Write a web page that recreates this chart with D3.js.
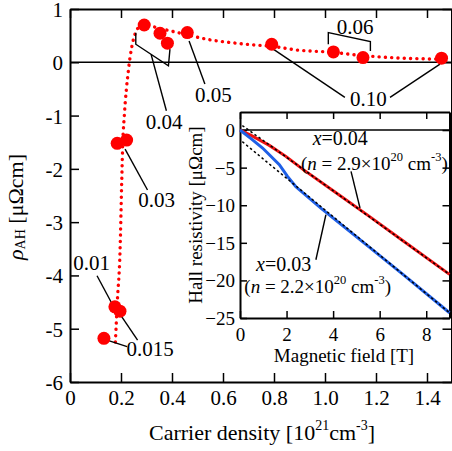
<!DOCTYPE html>
<html><head><meta charset="utf-8">
<script src="https://cdn.jsdelivr.net/npm/d3@7"></script>
<style>
html,body{margin:0;padding:0;background:#fff;}
svg{display:block;font-family:"Liberation Serif","Times New Roman",serif;}
</style></head>
<body>
<svg id="c" width="452" height="451"></svg>
<script>
// ---- main panel data ----
const density = [0.133,0.176,0.196,0.185,0.222,0.291,0.353,0.382,0.460,0.791,1.033,1.149,1.457];
const rhoAH   = [-5.18,-4.59,-4.67,-1.52,-1.46,0.70,0.545,0.358,0.557,0.339,0.195,0.089,0.077];
const guideX = [0.178,0.186,0.196,0.203,0.207,0.213,0.229,0.242,0.255,0.27,0.29,0.34,0.42,0.5,0.55,0.63,0.71,0.79,0.89,1.02,1.15,1.28,1.41,1.47];
const guideY = [-5.25,-4.45,-3.58,-2.21,-1.5,-1.0,-0.15,0.28,0.53,0.66,0.71,0.65,0.56,0.47,0.42,0.37,0.33,0.30,0.23,0.19,0.125,0.082,0.063,0.06];
const xTicks = [0,0.2,0.4,0.6,0.8,1.0,1.2,1.4];
const xTickLabels = ["0","0.2","0.4","0.6","0.8","1.0","1.2","1.4"];
const yTicks = [1,0,-1,-2,-3,-4,-5,-6];
const yTickLabels = ["1","0","-1","-2","-3","-4","-5","-6"];
// composition labels: text, anchor (data units), leader polylines (data units)
const compLabels = ["0.01","0.015","0.03","0.04","0.05","0.06","0.10"];
const compLabelX = [0.013,0.222,0.268,0.297,0.49,1.046,1.098];
const compLabelY = [-3.90,-5.51,-2.72,-1.25,-0.74,0.53,-0.815];
const leaders = [
  [[0.106,-4.006],[0.167,-4.55]],
  [[0.133,-5.195],[0.224,-5.335]],
  [[0.196,-4.727],[0.265,-5.214]],
  [[0.216,-1.63],[0.304,-2.397]],
  [[0.258,0.556],[0.258,0.339],[0.386,-0.067],[0.392,0.246]],
  [[0.318,0.148],[0.378,-0.909]],
  [[0.467,0.401],[0.529,-0.409]],
  [[1.013,0.339],[1.013,0.556],[1.178,0.388],[1.178,0.214]],
  [[0.797,0.246],[1.078,-0.660]],
  [[1.255,-0.66],[1.451,-0.035]]
];
// ---- inset data ----
const fieldRed = [0,0.5,1.26,1.97,2.69,4.11,5.54,6.97,9.0];
const hallRed  = [0,-0.75,-2.04,-3.5,-5.2,-8.3,-11.45,-14.65,-19.2];
const fieldBlue = [0,0.5,0.97,1.69,2.04,2.4,3.5,5.5,7.0,9.0];
const hallBlue  = [0,-1.2,-2.39,-4.6,-6.16,-7.55,-10.45,-15.45,-19.2,-24.3];
const fitRed = [[0.1,0.6],[9.0,-19.2]];
const fitBlue = [[0.1,-1.55],[9.0,-24.3]];
const insetXTicks = [0,2,4,6,8];
const insetYTicks = [0,-5,-10,-15,-20,-25];

const svg = d3.select("#c");
const ser = '"Liberation Serif","Times New Roman",serif';

// ---- main scales ----
const x = d3.scaleLinear().domain([0,1.5]).range([70,452.5]);
const y = d3.scaleLinear().domain([-6,1]).range([382,9]);

// zero line
svg.append("line").attr("x1",x(0)).attr("x2",x(1.5)).attr("y1",y(0)).attr("y2",y(0))
  .attr("stroke","#000").attr("stroke-width",1.5);

// axes with inward ticks
const tickLen = 9;
const gB = svg.append("g").attr("transform",`translate(0,${y(-6)})`)
  .call(d3.axisBottom(x).tickValues(xTicks).tickSizeInner(-tickLen).tickSizeOuter(0).tickFormat((d,i)=>xTickLabels[i]));
const gT = svg.append("g").attr("transform",`translate(0,${y(1)})`)
  .call(d3.axisTop(x).tickValues(xTicks).tickSizeInner(-tickLen).tickSizeOuter(0).tickFormat(""));
const gL = svg.append("g").attr("transform",`translate(${x(0)},0)`)
  .call(d3.axisLeft(y).tickValues(yTicks).tickSizeInner(-tickLen).tickSizeOuter(0).tickFormat((d,i)=>yTickLabels[i]));
const gR = svg.append("g").attr("transform",`translate(${x(1.5)-1},0)`)
  .call(d3.axisRight(y).tickValues(yTicks).tickSizeInner(-tickLen).tickSizeOuter(0).tickFormat(""));
[gB,gT,gL,gR].forEach(g=>{
  g.select(".domain").attr("stroke","#000").attr("stroke-width",2);
  g.selectAll(".tick line").attr("stroke","#000").attr("stroke-width",1.5);
  g.selectAll("text").style("font-family",ser).attr("font-size",21).attr("fill","#000");
});
gB.selectAll(".tick text").attr("y",8).attr("dy","0.71em");
gL.selectAll(".tick text").attr("x",-7).attr("dy","0.36em");

// axis titles
const xt = svg.append("text").attr("x",262).attr("y",440).attr("text-anchor","middle")
  .style("font-family",ser).attr("font-size",22);
xt.append("tspan").text("Carrier density [10");
xt.append("tspan").attr("font-size",14).attr("dy",-10).text("21");
xt.append("tspan").attr("dy",10).text("cm");
xt.append("tspan").attr("font-size",14).attr("dy",-10).text("-3");
xt.append("tspan").attr("dy",10).text("]");

const yt = svg.append("text").attr("transform","translate(23,207) rotate(-90)")
  .attr("text-anchor","middle").style("font-family",ser).attr("font-size",22);
yt.append("tspan").attr("font-style","italic").text("ρ");
yt.append("tspan").attr("font-size",14).attr("dy",2).text("AH");
yt.append("tspan").attr("dy",-2).text(" [μΩcm]");

// dotted guide curve
const gLine = d3.line().x(d=>x(d[0])).y(d=>y(d[1])).curve(d3.curveMonotoneX);
svg.append("path").attr("d",gLine(d3.zip(guideX,guideY)))
  .attr("fill","none").attr("stroke","#ff0000").attr("stroke-width",3.4)
  .attr("stroke-linecap","round").attr("stroke-dasharray","0.1 6.2");

// leaders
const lLine = d3.line().x(d=>x(d[0])).y(d=>y(d[1]));
svg.append("g").selectAll("path").data(leaders).join("path")
  .attr("d",lLine).attr("fill","none").attr("stroke","#000").attr("stroke-width",1.4);

// points
svg.append("g").selectAll("circle").data(d3.zip(density,rhoAH)).join("circle")
  .attr("cx",d=>x(d[0])).attr("cy",d=>y(d[1])).attr("r",6.5).attr("fill","#ff0000");

// composition labels
svg.append("g").selectAll("text").data(compLabels).join("text")
  .attr("x",(d,i)=>x(compLabelX[i])).attr("y",(d,i)=>y(compLabelY[i]))
  .style("font-family",ser).attr("font-size",21).text(d=>d);

// ---- inset ----
const ix = d3.scaleLinear().domain([0,9]).range([240,449.5]);
const iy = d3.scaleLinear().domain([-25,2.4]).range([318,112]);
svg.append("rect").attr("x",ix(0)).attr("y",iy(2.4)).attr("width",ix(9)-ix(0)).attr("height",iy(-25)-iy(2.4))
  .attr("fill","#fff");
svg.append("line").attr("x1",ix(0)).attr("x2",ix(9)).attr("y1",iy(0)).attr("y2",iy(0))
  .attr("stroke","#000").attr("stroke-width",1.5);
const iLen = 7;
const iB = svg.append("g").attr("transform",`translate(0,${iy(-25)})`)
  .call(d3.axisBottom(ix).tickValues(insetXTicks).tickSizeInner(-iLen).tickSizeOuter(0));
const iT = svg.append("g").attr("transform",`translate(0,${iy(2.4)})`)
  .call(d3.axisTop(ix).tickValues(insetXTicks).tickSizeInner(-iLen).tickSizeOuter(0).tickFormat(""));
const iL = svg.append("g").attr("transform",`translate(${ix(0)},0)`)
  .call(d3.axisLeft(iy).tickValues(insetYTicks).tickSizeInner(-iLen).tickSizeOuter(0));
const iR = svg.append("g").attr("transform",`translate(${ix(9)},0)`)
  .call(d3.axisRight(iy).tickValues(insetYTicks).tickSizeInner(-iLen).tickSizeOuter(0).tickFormat(""));
[iB,iT,iL,iR].forEach(g=>{
  g.select(".domain").attr("stroke","#000").attr("stroke-width",2);
  g.selectAll(".tick line").attr("stroke","#000").attr("stroke-width",1.5);
  g.selectAll("text").style("font-family",ser).attr("font-size",19).attr("fill","#000");
});
iB.selectAll(".tick text").attr("y",10).attr("dy","0.71em");
iL.selectAll(".tick text").attr("x",-5).attr("dy","0.34em");

svg.append("text").attr("x",344).attr("y",362).attr("text-anchor","middle")
  .style("font-family",ser).attr("font-size",19).text("Magnetic field [T]");
svg.append("text").attr("transform","translate(202,215) rotate(-90)").attr("text-anchor","middle")
  .style("font-family",ser).attr("font-size",19).text("Hall resistivity [μΩcm]");

const iLine = d3.line().x(d=>ix(d[0])).y(d=>iy(d[1]));
svg.append("path").attr("d",iLine(d3.zip(fieldRed,hallRed))).attr("fill","none")
  .attr("stroke","#ee1111").attr("stroke-width",3);
svg.append("path").attr("d",iLine(d3.zip(fieldBlue,hallBlue))).attr("fill","none")
  .attr("stroke","#1f5fe6").attr("stroke-width",3);
[fitRed,fitBlue].forEach(f=>{
  svg.append("path").attr("d",iLine(f)).attr("fill","none").attr("stroke","#000")
    .attr("stroke-width",1.5).attr("stroke-dasharray","2.5 2.5");
});
// inset pointers
svg.append("path").attr("d",iLine([[4.77,-5.49],[5.155,-10.37]])).attr("stroke","#000").attr("stroke-width",1.4).attr("fill","none");
svg.append("path").attr("d",iLine([[3.69,-11.27],[3.26,-17.25]])).attr("stroke","#000").attr("stroke-width",1.4).attr("fill","none");

function sampleLabel(bx,by,comp){
  const t = svg.append("text").attr("x",ix(bx)).attr("y",iy(by)).style("font-family",ser).attr("font-size",20);
  t.append("tspan").attr("font-style","italic").text("x");
  t.append("tspan").text("=" + comp);
}
function densLabel(bx,by,val){
  const t = svg.append("text").attr("x",ix(bx)).attr("y",iy(by)).style("font-family",ser).attr("font-size",19);
  t.append("tspan").text("(");
  t.append("tspan").attr("font-style","italic").text("n");
  t.append("tspan").text(" = " + val + "×10");
  t.append("tspan").attr("font-size",12.5).attr("dy",-9).text("20");
  t.append("tspan").attr("dy",9).text(" cm");
  t.append("tspan").attr("font-size",12.5).attr("dy",-9).text("-3");
  t.append("tspan").attr("dy",9).text(")");
}
sampleLabel(3.12,-2.03,"0.04");
densLabel(2.62,-5.28,"2.9");
sampleLabel(0.687,-18.79,"0.03");
densLabel(0.185,-21.68,"2.2");
</script>
</body></html>
